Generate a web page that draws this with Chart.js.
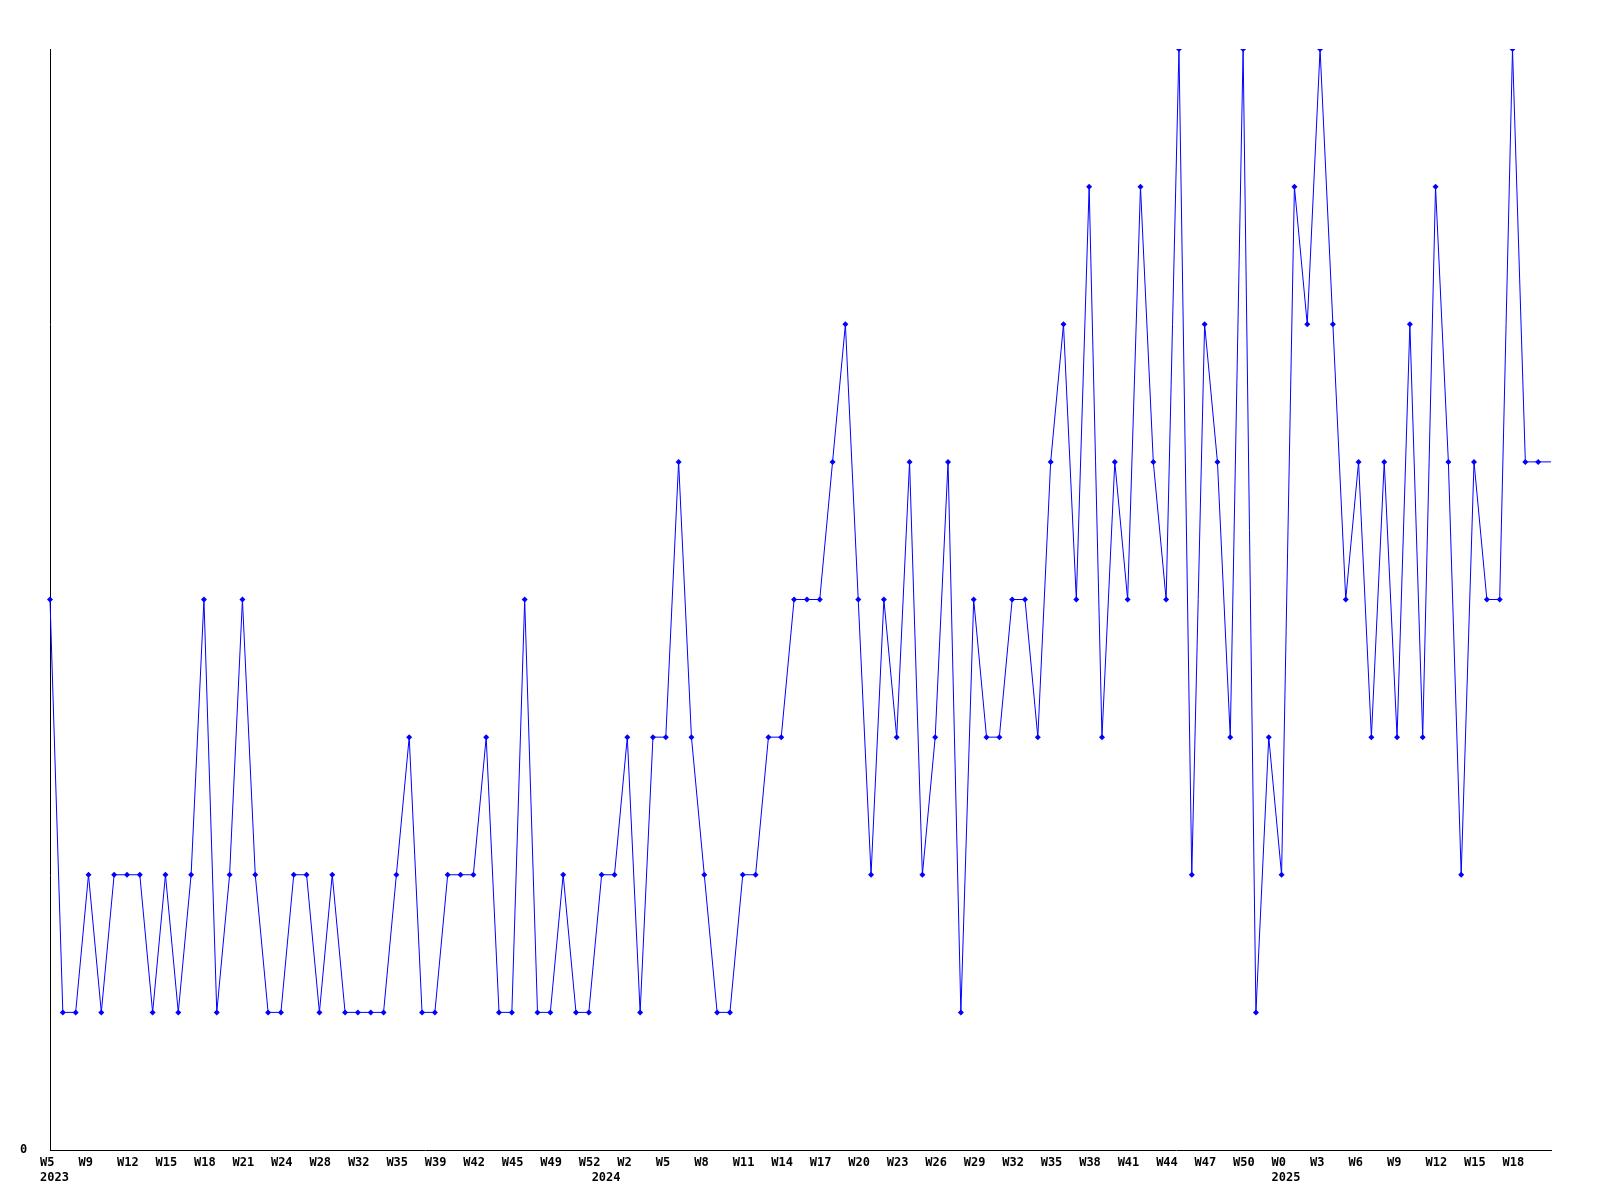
<!DOCTYPE html>
<html lang="en">

<head>
  <meta charset="UTF-8" />
  <title>Weekly count</title>
  <script src="https://cdn.jsdelivr.net/npm/chart.js"></script>
  <style>
    body {
      margin: 0;
      background: #ffffff;
    }
  </style>
</head>

<body>
  <canvas id="myChart01" width="1600" height="1200"></canvas>

  <script>
    // weekly values, one per point
    const counts = [
      4, 1, 1, 2, 1, 2, 2, 2, 1, 2, 1, 2, 4, 1, 2, 4, 2, 1, 1, 2,
      2, 1, 2, 1, 1, 1, 1, 2, 3, 1, 1, 2, 2, 2, 3, 1, 1, 4, 1, 1,
      2, 1, 1, 2, 2, 3, 1, 3, 3, 5, 3, 2, 1, 1, 2, 2, 3, 3, 4, 4,
      4, 5, 6, 4, 2, 4, 3, 5, 2, 3, 5, 1, 4, 3, 3, 4, 4, 3, 5, 6,
      4, 7, 3, 5, 4, 7, 5, 4, 8, 2, 6, 5, 3, 8, 1, 3, 2, 7, 6, 8,
      6, 4, 5, 3, 5, 3, 6, 3, 7, 5, 2, 5, 4, 4, 8, 5, 5, 5
    ];

    // a week label every 3rd point
    const tickWeeks = [
      "W5", "W9", "W12", "W15", "W18", "W21", "W24", "W28", "W32", "W35",
      "W39", "W42", "W45", "W49", "W52", "W2", "W5", "W8", "W11", "W14",
      "W17", "W20", "W23", "W26", "W29", "W32", "W35", "W38", "W41", "W44",
      "W47", "W50", "W0", "W3", "W6", "W9", "W12", "W15", "W18"
    ];
    // year labels sit under the first point of each year
    const yearPoints = [0, 43, 96];
    const years = ["2023", "2024", "2025"];

    const tickEvery = 3;
    const axisFont = { family: "'DejaVu Sans Mono', monospace", size: 12, weight: "bold", lineHeight: 1.25 };

    const ctx01 = document.getElementById("myChart01");
    const mychart01 = new Chart(ctx01, {
      type: "line",
      data: {
        labels: counts.map((v, i) => i),
        datasets: [
          {
            data: counts,
            borderColor: "#0000ff",
            backgroundColor: "#0000ff",
            borderWidth: 1,
            tension: 0,
            pointStyle: "rectRot",
            pointRadius: (c) => (c.dataIndex === counts.length - 1 ? 0 : 3),
            pointBorderWidth: 0,
          },
        ],
      },
      options: {
        responsive: false,
        animation: false,
        layout: {
          padding: { left: 20, right: 49, top: 49, bottom: 0 },
        },
        plugins: {
          legend: { display: false },
          tooltip: { enabled: false },
        },
        scales: {
          x: {
            grid: { display: false, drawTicks: false },
            border: { display: true, color: "#000000", width: 1 },
            afterFit: (scale) => {
              scale.height = 50;
            },
            ticks: {
              autoSkip: false,
              maxRotation: 0,
              minRotation: 0,
              align: "start",
              labelOffset: -10,
              padding: 5,
              color: "#000000",
              font: axisFont,
              callback: function (value, index) {
                const week = index % tickEvery === 0 ? tickWeeks[index / tickEvery] : "";
                const y = yearPoints.indexOf(index);
                if (y >= 0) return [week, years[y]];
                return week;
              },
            },
          },
          y: {
            min: 0,
            max: 8,
            grid: { display: false, drawTicks: false },
            border: { display: true, color: "#000000", width: 1 },
            afterFit: (scale) => {
              scale.width = 30;
            },
            ticks: {
              stepSize: 1,
              crossAlign: "far",
              color: "#000000",
              font: axisFont,
              callback: (value) => (value === 0 ? "0" : ""),
            },
          },
        },
      },
    });
  </script>
</body>

</html>
